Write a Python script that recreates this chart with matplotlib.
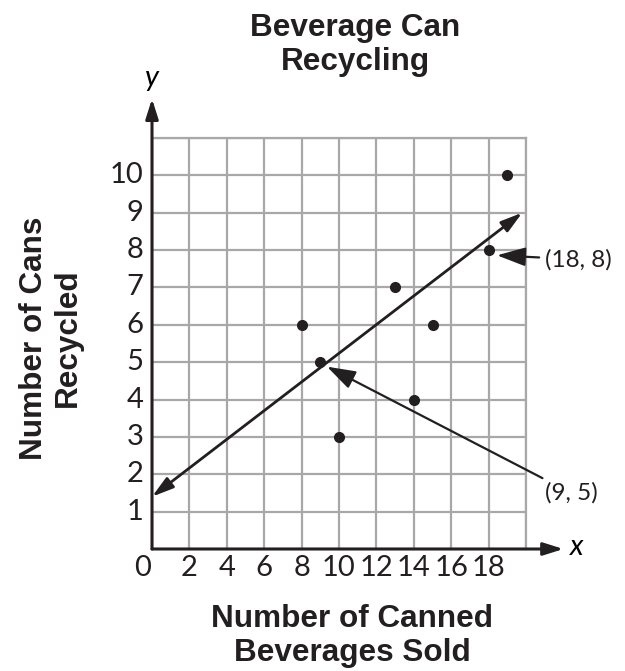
import matplotlib.pyplot as plt

# data
sold = [8, 9, 10, 13, 14, 15, 18, 19]
recycled = [6, 5, 3, 7, 4, 6, 8, 10]
fit_x = [0, 19.8]
fit_y = [1.4, 9.0]
x_ticks = [2, 4, 6, 8, 10, 12, 14, 16, 18]
y_ticks = [1, 2, 3, 4, 5, 6, 7, 8, 9, 10]
callouts = [((18, 8), '(18, 8)'), ((9, 5), '(9, 5)')]

W, H = 625, 671
fig = plt.figure(figsize=(W / 100, H / 100), dpi=100)
ax = fig.add_axes([152 / W, (H - 549) / H, (526 - 152) / W, (549 - 138) / H])
ax.set_xlim(0, 20)
ax.set_ylim(0, 11)

grid_c = '#a8a8a8'
ax.set_xticks(range(0, 21, 2))
ax.set_yticks(range(0, 12))
ax.grid(True, color=grid_c, lw=1.6)
ax.tick_params(length=0, labelbottom=False, labelleft=False)
for s in ['top', 'right']:
    ax.spines[s].set_color(grid_c)
    ax.spines[s].set_linewidth(1.6)
for s in ['left', 'bottom']:
    ax.spines[s].set_visible(False)

tick_font = dict(family='Lato', fontsize=21, color='#231f20')
for v in x_ticks:
    ax.text(v, -0.5, str(v), ha='center', va='center', **tick_font)
for v in y_ticks:
    ax.text(-0.45, v, str(v), ha='right', va='center', **tick_font)
ax.text(-0.5, -0.5, '0', ha='center', va='center', **tick_font)

# axes with arrows
ax.annotate('', xy=(22.0, 0), xytext=(0, 0), annotation_clip=False,
            arrowprops=dict(arrowstyle='-|>,head_length=1.2,head_width=0.38', lw=2.2,
                            color='#231f20', shrinkA=0, shrinkB=0))
ax.annotate('', xy=(0, 12.05), xytext=(0, 0), annotation_clip=False,
            arrowprops=dict(arrowstyle='-|>,head_length=1.2,head_width=0.38', lw=2.2,
                            color='#231f20', shrinkA=0, shrinkB=0))
ax.text(22.7, 0.05, 'x', style='italic', family='Lato', fontsize=21, ha='center', va='center')
ax.text(0, 12.6, 'y', style='italic', family='Lato', fontsize=21, ha='center', va='center')

# trend line, arrows at both ends
ax.annotate('', xy=(fit_x[1], fit_y[1]), xytext=(fit_x[0], fit_y[0]), annotation_clip=False,
            arrowprops=dict(arrowstyle='<|-|>,head_length=1.3,head_width=0.38', lw=2,
                            color='#231f20', shrinkA=0, shrinkB=0))

ax.plot(sold, recycled, 'o', color='#231f20', ms=7, clip_on=False, zorder=5)

# callouts
tips = [(18.45, 7.86), (9.36, 4.88)]
text_pos = [(21.0, 7.75), (21.0, 1.5)]
for (pt, lab), tip, tp in zip(callouts, tips, text_pos):
    ax.annotate(lab, xy=tip, xytext=tp, ha='left', va='center', annotation_clip=False,
                family='Lato', fontsize=17.5, color='#231f20',
                arrowprops=dict(arrowstyle='-|>,head_length=1.0,head_width=0.33', lw=1.6,
                                color='#231f20', shrinkA=2, shrinkB=0))

bold = dict(family='Liberation Sans', fontweight='bold', fontsize=22.7, color='#231f20',
            ha='center', va='center', linespacing=1.2)
fig.text(355 / W, 1 - 45 / H, 'Beverage Can\nRecycling', **bold)
fig.text(352 / W, 1 - 636 / H, 'Number of Canned\nBeverages Sold', **bold)
fig.text(51 / W, 1 - 338 / H, 'Number of Cans\nRecycled', rotation=90, **bold)

fig.savefig('out.png', dpi=100)
